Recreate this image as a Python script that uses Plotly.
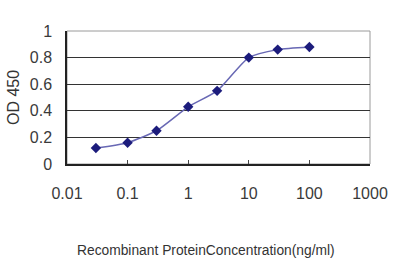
import plotly.graph_objects as go

conc = [0.03, 0.1, 0.3, 1, 3, 10, 30, 100]
od450 = [0.12, 0.16, 0.25, 0.43, 0.55, 0.80, 0.86, 0.88]
x_ticks = [0.01, 0.1, 1, 10, 100, 1000]
x_tick_labels = ["0.01", "0.1", "1", "10", "100", "1000"]
y_ticks = [0, 0.2, 0.4, 0.6, 0.8, 1]
y_tick_labels = ["0", "0.2", "0.4", "0.6", "0.8", "1"]
x_title = "Recombinant ProteinConcentration(ng/ml)"
y_title = "OD 450"

fig = go.Figure()
fig.add_trace(go.Scatter(
    x=conc, y=od450, mode="lines+markers",
    line=dict(color="#6868b4", width=1.5, shape="spline", smoothing=0.6),
    marker=dict(symbol="diamond", size=8, color="#1c1c7c"),
    showlegend=False,
))

fig.add_shape(type="rect", xref="paper", yref="paper", x0=0, y0=0, x1=1, y1=1,
              line=dict(color="#9a9a9a", width=1), layer="below")

fig.add_annotation(text=x_title, xref="paper", yref="paper",
                   x=0.459, y=-0.647, xanchor="center", yanchor="middle",
                   showarrow=False, font=dict(size=13.8, color="#333333"))

fig.update_layout(
    width=400, height=267,
    margin=dict(l=67, r=26, t=31, b=103),
    paper_bgcolor="white", plot_bgcolor="white",
    font=dict(family="Liberation Sans, Arial, sans-serif", color="#333333"),
    xaxis=dict(
        type="log", range=[-2, 3],
        tickvals=x_ticks, ticktext=x_tick_labels,
        tickfont=dict(size=16, color="#3a3a3a"),
        ticks="inside", ticklen=4, tickcolor="#444444",
        ticklabelstandoff=14,
        showgrid=False, zeroline=False,
        showline=True, linecolor="#222222", linewidth=1.5,
    ),
    yaxis=dict(
        range=[0, 1],
        tickvals=y_ticks, ticktext=y_tick_labels,
        tickfont=dict(size=16, color="#3a3a3a"),
        ticks="", ticklabelstandoff=10,
        showgrid=True, gridcolor="#333333", gridwidth=1,
        zeroline=False,
        showline=True, linecolor="#222222", linewidth=1.5,
        title=dict(text=y_title, font=dict(size=16, color="#333333"), standoff=6),
    ),
)

fig.write_html("out.html")
